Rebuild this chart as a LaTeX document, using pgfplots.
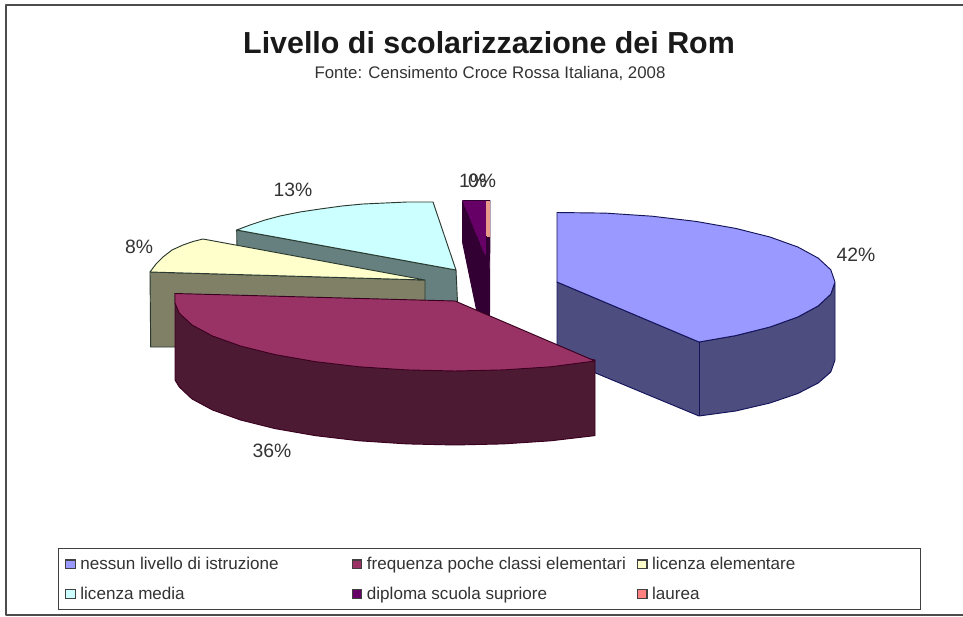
\documentclass[border=0pt]{standalone}
\usepackage{pgfplots}
\pgfplotsset{compat=1.18}
\usepackage{fontspec}
\setmainfont{Liberation Sans}
\definecolor{txt}{HTML}{333333}
\definecolor{bluetop}{HTML}{9999FF}
\definecolor{blueside}{HTML}{4D4D80}
\definecolor{bluedge}{HTML}{14145A}
\definecolor{martop}{HTML}{993366}
\definecolor{marside}{HTML}{4D1A33}
\definecolor{maredge}{HTML}{3A0020}
\definecolor{yeltop}{HTML}{FFFFCC}
\definecolor{yelside}{HTML}{808066}
\definecolor{cyatop}{HTML}{CCFFFF}
\definecolor{cyaside}{HTML}{668080}
\definecolor{edge}{HTML}{2A3A30}
\definecolor{purtop}{HTML}{660066}
\definecolor{purside}{HTML}{330033}
\definecolor{salm}{HTML}{E89A8A}
\pgfplotsset{poly/.style={forget plot,no markers,line width=0.7pt,line join=round,#1}}
\newcommand{\legimg}[1]{\addlegendimage{legend image code/.code={\draw[fill=#1,draw=black!75,line width=0.8pt] (0.05cm,-0.115cm) rectangle (0.3cm,0.115cm);}}}
\newcommand{\legtxt}[2]{\makebox[#1][l]{\hspace*{1.5pt}#2}}
\begin{document}
\begin{tikzpicture}
\begin{axis}[
  scale only axis,width=722.25pt,height=462.75pt,
  xmin=0,xmax=963,ymin=0,ymax=617,y dir=reverse,
  hide axis,clip=true,
  legend style={at={(axis cs:58,548)},anchor=north west,legend columns=3,
    draw=black!75,line width=0.8pt,font=\fontsize{12.8}{15}\selectfont\color{txt},
    inner xsep=5pt,inner ysep=4.5pt,
    row sep=7.5pt},
  legend cell align=left,
]
% frame
\addplot[poly={draw=black!70,line width=1pt}] coordinates {(963,5) (6,5) (6,615) (963,615)};
% licenza media
\addplot[poly={fill=cyaside,draw=edge}] coordinates {(236.7,230) (456,270) (457.5,302) (457.5,306) (237,268)} --cycle;
\addplot[poly={fill=cyatop,draw=edge}] coordinates {(236.7,230) (250,225) (265,220) (280,216) (300,212) (320,209) (342,206) (363,204) (385,203) (407,202) (433,202) (456,270)} --cycle;
% licenza elementare
\addplot[poly={fill=yelside,draw=edge}] coordinates {(150,272) (425,280) (425,306) (180,347) (150.7,347)} --cycle;
\addplot[poly={fill=yeltop,draw=edge}] coordinates {(150,272) (156,264) (163,257) (172,250) (183,245) (193,241.5) (203,239) (425,280)} --cycle;
% diploma
\addplot[poly={fill=purside,draw=purside}] coordinates {(462.7,200.7) (490,200.7) (489.5,318) (477,312) (462.7,243)} --cycle;
\addplot[poly={fill=purtop,draw=purtop,line width=0pt}] coordinates {(463.5,201.5) (485,201.5) (485,254)} --cycle;
% laurea
\addplot[poly={fill=salm,draw=salm,line width=0pt}] coordinates {(486,201) (489.5,201) (489.5,236) (487,236)} --cycle;
% nessun livello
\addplot[poly={fill=blueside,draw=bluedge}] coordinates {(557,282) (699,342) (735.7,335.6) (770,327) (797.8,317) (818.2,305.9) (830.8,294.2) (835,283) (835,360) (830.8,372) (818.2,383) (797.8,393.5) (770,403) (735.7,411) (699,416) (557,357)} --cycle;
\addplot[poly={fill=bluetop,draw=bluedge}] coordinates {(557,212.5) (605.3,213.1) (652.1,216.2) (696,221.4) (735.7,228.4) (770,237) (797.8,247) (818.2,258.1) (830.8,269.8) (835,282) (830.8,294.2) (818.2,305.9) (797.8,317) (770,327) (735.7,335.6) (699,342) (557,282)} --cycle;
\addplot[poly={draw=bluedge}] coordinates {(699,342) (699,416)};
% frequenza
\addplot[poly={fill=marside,draw=maredge}] coordinates {(175,293.5) (175,380) (179.3,387) (191.9,398.9) (212.5,410) (240.5,420) (275,428.6) (315,435.6) (359.2,440.8) (406.4,443.9) (455,445) (503.6,443.9) (550.8,440.8) (595,435.6) (595,360)} --cycle;
\addplot[poly={fill=martop,draw=maredge}] coordinates {(175,293.5) (455,301) (595,361) (550.8,366.8) (503.6,369.9) (455,371) (406.4,369.9) (359.2,366.8) (315,361.6) (275,354.6) (240.5,346) (212.5,336) (191.9,324.9) (179.3,313.2) (175,303)} --cycle;
% legend
\legimg{bluetop}\addlegendentry{\legtxt{203pt}{nessun livello di istruzione}}
\legimg{martop}\addlegendentry{\legtxt{202pt}{frequenza poche classi elementari}}
\legimg{yeltop}\addlegendentry{\legtxt{196pt}{licenza elementare}}
\legimg{cyatop}\addlegendentry{\legtxt{0pt}{licenza media}}
\legimg{purtop}\addlegendentry{\legtxt{0pt}{diploma scuola supriore}}
\legimg{red!50!white}\addlegendentry{\legtxt{0pt}{laurea}}
% texts
\node[font=\fontsize{22.8}{26}\bfseries\selectfont,text=black!90] at (axis cs:489,43) {Livello di scolarizzazione dei Rom};
\node[font=\fontsize{12.6}{15}\selectfont,text=txt] at (axis cs:490,73) {Fonte: Censimento Croce Rossa Italiana, 2008};
\foreach \x/\y/\t in {856/255/42,272/451/36,293/190/13,139/247/8,473/181/1,482/181/0}{
  \edef\tmp{\noexpand\node[font=\noexpand\fontsize{14.5}{17}\noexpand\selectfont,text=txt] at (axis cs:\x,\y) {\t\noexpand\%};}\tmp
}
\path (rel axis cs:0,0) rectangle (rel axis cs:1,1);
\end{axis}
\end{tikzpicture}
\end{document}
